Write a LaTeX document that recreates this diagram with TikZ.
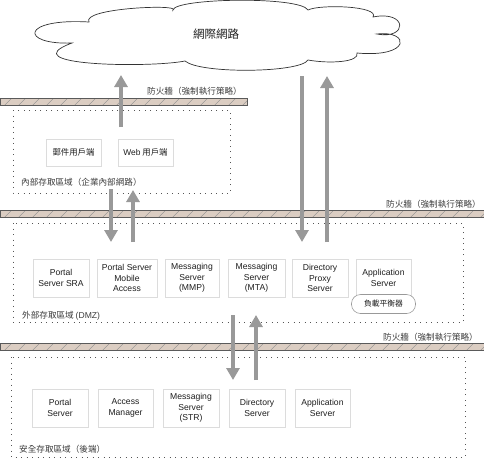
\documentclass[tikz,border=0pt]{standalone}
\usepackage{fontspec}
\setmainfont{Liberation Sans}
\newfontfamily\cjk{Noto Sans CJK TC}
\usetikzlibrary{arrows.meta}
\definecolor{arrgray}{HTML}{999999}
\definecolor{fwfill}{HTML}{DBCDC2}
\definecolor{fwline}{HTML}{5A5A5A}
\definecolor{boxline}{HTML}{DCDCDC}
\definecolor{zoneline}{HTML}{555555}
\definecolor{txt}{HTML}{1E1E1E}
\definecolor{lbltxt}{HTML}{3C3C3C}
\begin{document}
\begin{tikzpicture}[x=1pt,y=-1pt,
  srv/.style={draw=boxline, line width=0.6pt, align=center, text=txt,
    font=\fontsize{8.6}{10.7}\selectfont, inner sep=0pt, minimum height=38pt},
  cli/.style={draw=boxline, line width=0.6pt, align=center, text=txt,
    font=\cjk\fontsize{8.4}{10}\selectfont, inner sep=0pt, minimum height=27pt},
  zone/.style={draw=zoneline, line width=0.9pt, dash pattern=on 0.9pt off 4.6pt},
  flow/.style={draw=arrgray, line width=3.4pt, -{Triangle[width=13pt,length=12pt,fill=arrgray]}},
  lbl/.style={font=\cjk\fontsize{8.6}{10}\selectfont, text=lbltxt, inner sep=0pt},
  fw/.style={draw=fwline, line width=0.9pt, fill=fwfill, inner sep=0pt,
    minimum height=7pt, anchor=north west,
    path picture={\foreach \i in {4,18,...,500}
      \draw[fwline!70, line width=0.35pt] ([xshift=\i pt]path picture bounding box.south west) -- ++(7,-7);}},
]
\useasboundingbox (0,0) rectangle (484,459);

% cloud
\draw[fill=white, draw=black!80, line width=0.7pt]
  (89,22) .. controls +(-8,-14) and +(8,-6) .. (173,10)
  .. controls +(2,-12) and +(-8,-14) .. (308,10)
  .. controls +(12,-6) and +(7,-11) .. (373,17)
  .. controls +(35,-7) and +(31,6) .. (377,34)
  .. controls +(33,-4) and +(55,5) .. (357,53)
  .. controls +(3,9) and +(22,4) .. (308,60)
  .. controls +(-8,13) and +(15,13) .. (185,61)
  .. controls +(-35,7) and +(-62,23) .. (72,43)
  .. controls +(-52,2) and +(-69,-4) .. (89,22) -- cycle;
\node[font=\cjk\fontsize{11.5}{12}\selectfont, text=txt] (net) at (216,34) {網際網路};

% firewalls
\node[fw, minimum width=247pt] (fw1) at (0,98) {};
\node[fw, minimum width=484pt] (fw2) at (0,210) {};
\node[fw, minimum width=484pt] (fw3) at (0,343) {};
\node[lbl, anchor=east] (fw1l) at (242,91) {防火牆（強制執行策略）};
\node[lbl, anchor=east] (fw2l) at (481,204) {防火牆（強制執行策略）};
\node[lbl, anchor=east] (fw3l) at (478,337) {防火牆（強制執行策略）};

% zones
\draw[zone] (13,110) rectangle (230,193);
\draw[zone] (13,223) rectangle (463,322);
\draw[zone] (11,357) rectangle (465,457);
\node[lbl, anchor=west] (intl) at (21,182) {內部存取區域（企業內部網路）};
\node[lbl, anchor=west] (dmzl) at (22,316) {外部存取區域 {\rmfamily (DMZ)}};
\node[lbl, anchor=west] (secl) at (19,449) {安全存取區域（後端）};

% internal clients
\node[cli, minimum width=55pt] (mail) at (73.5,152.5) {郵件用戶端};
\node[cli, minimum width=55pt] (web) at (145.5,152.5) {{\rmfamily Web} 用戶端};

% DMZ servers
\node[srv, minimum width=56pt] (psra) at (61,278) {Portal\\Server SRA};
\node[srv, minimum width=60pt] (psma) at (127,278) {Portal Server\\Mobile\\Access};
\node[srv, minimum width=54pt] (mmp) at (192,278) {Messaging\\Server\\(MMP)};
\node[srv, minimum width=57pt] (mta) at (256.5,278) {Messaging\\Server\\(MTA)};
\node[srv, minimum width=56pt] (dps) at (320,278) {Directory\\Proxy\\Server};
\node[srv, minimum width=55pt] (apps) at (383.5,278) {Application\\Server};
\node[draw=black!40, line width=0.6pt, fill=white, rounded corners=9pt,
  minimum width=64pt, minimum height=19pt, inner sep=0pt, text=txt,
  font=\cjk\fontsize{7.8}{9}\selectfont] (lb) at (383.5,304) {負載平衡器};

% secure servers
\node[srv, minimum width=56pt] (ps) at (60,408) {Portal\\Server};
\node[srv, minimum width=55pt] (am) at (125.5,408) {Access\\Manager};
\node[srv, minimum width=56pt] (str) at (191,408) {Messaging\\Server\\(STR)};
\node[srv, minimum width=56pt] (ds) at (257,408) {Directory\\Server};
\node[srv, minimum width=55pt] (as2) at (322.5,408) {Application\\Server};

% flow endpoints
\coordinate (a1s) at (121,127);  \coordinate (a1e) at (121,75);
\coordinate (a2s) at (302,76);   \coordinate (a2e) at (302,242);
\coordinate (a3s) at (327,242);  \coordinate (a3e) at (327,76);
\coordinate (a4s) at (111,189);  \coordinate (a4e) at (111,242);
\coordinate (a5s) at (133,242);  \coordinate (a5e) at (133,190);
\coordinate (a6s) at (233,315);  \coordinate (a6e) at (233,380);
\coordinate (a7s) at (256,380);  \coordinate (a7e) at (256,315);

\draw[flow] (a1s) -- (a1e);
\draw[flow] (a2s) -- (a2e);
\draw[flow] (a3s) -- (a3e);
\draw[flow] (a4s) -- (a4e);
\draw[flow] (a5s) -- (a5e);
\draw[flow] (a6s) -- (a6e);
\draw[flow] (a7s) -- (a7e);
\end{tikzpicture}
\end{document}
